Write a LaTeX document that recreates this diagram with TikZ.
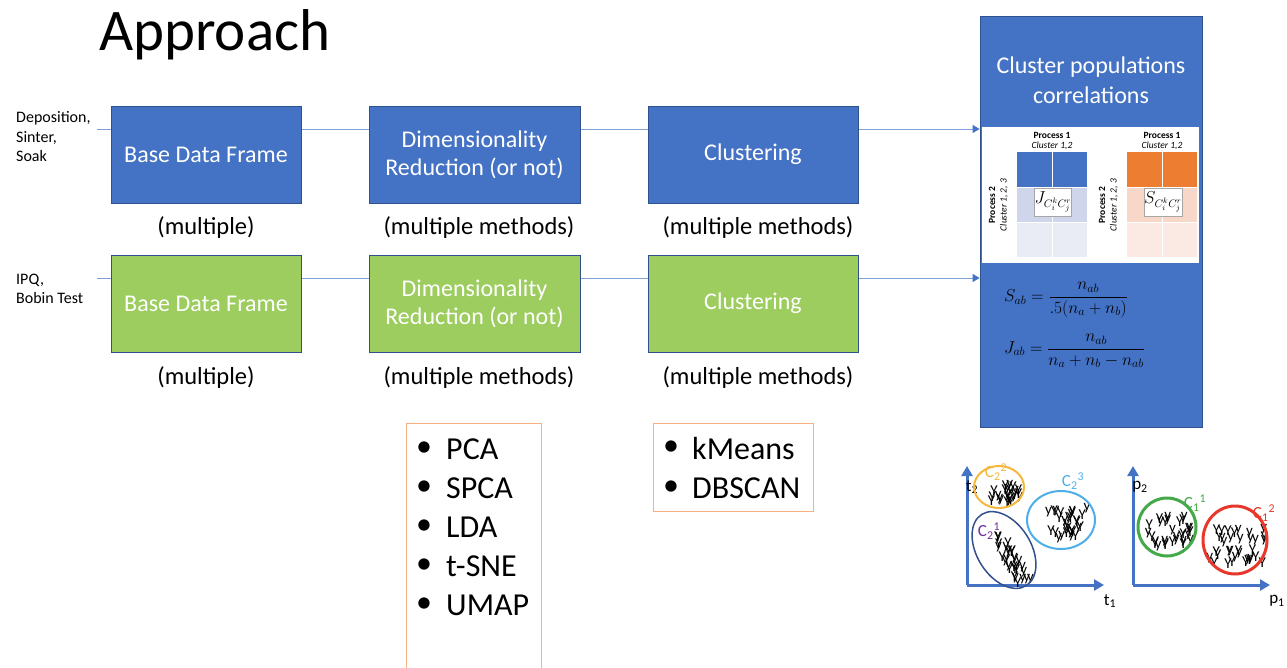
\documentclass[tikz,border=0pt]{standalone}
\usepackage{amsmath}
\usepackage{fontspec}
\setmainfont{Carlito}
\usetikzlibrary{arrows.meta,backgrounds}
\definecolor{bfill}{HTML}{4472C4}
\definecolor{bedge}{HTML}{2F528F}
\definecolor{gfill}{HTML}{9CCD5E}
\definecolor{lline}{HTML}{7F9FD8}
\definecolor{obord}{HTML}{F4B183}
\definecolor{bmid}{HTML}{CFD5EA}
\definecolor{blight}{HTML}{E9EBF5}
\definecolor{ofill}{HTML}{ED7D31}
\definecolor{omid}{HTML}{F7D7C8}
\definecolor{olight}{HTML}{FBEAE3}
\definecolor{cgold}{HTML}{F5B73B}
\definecolor{csky}{HTML}{4FAEE8}
\definecolor{cnavy}{HTML}{33508E}
\definecolor{cpurple}{HTML}{7030A0}
\definecolor{cgreen}{HTML}{45A94A}
\definecolor{cred}{HTML}{E8372B}
\tikzset{
  stagebox/.style={draw=bedge, line width=0.8pt, text=white, minimum width=190pt, minimum height=97pt, align=center, font=\fontsize{24}{28}\selectfont, inner sep=0pt},
  bluebox/.style={stagebox, fill=bfill},
  greenbox/.style={stagebox, fill=gfill},
  undertext/.style={font=\fontsize{24.5}{28}\selectfont, inner sep=0pt},
  flow/.style={draw=lline, line width=1pt, -{Triangle[length=7pt,width=8pt,fill=bfill,color=bfill]}},
  listbox/.style={draw=obord, line width=1pt, fill=white, inner sep=0pt},
  listitem/.style={font=\fontsize{32}{34}\selectfont, anchor=west, inner sep=0pt},
  cellhead/.style={font=\fontsize{9}{10}\selectfont, inner sep=0pt},
  mbox/.style={draw=gray!70, fill=white, line width=0.5pt, minimum width=36pt, minimum height=28pt, inner sep=0pt, font=\fontsize{16}{18}\selectfont},
  axis/.style={draw=bfill, line width=3pt, -{Triangle[length=10pt,width=11pt]}},
  axlabel/.style={font=\fontsize{17}{18}\selectfont, inner sep=0pt},
  ych/.style={font=\fontsize{15}{15}\selectfont, inner sep=0pt},
  clabel/.style={font=\fontsize{17}{18}\selectfont, inner sep=0pt},
}
\begin{document}
\begin{tikzpicture}[x=1pt,y=-1pt]
\useasboundingbox (0,0) rectangle (1287,667);
% title
\node[anchor=west, font=\fontsize{59}{64}\selectfont, inner sep=0pt] (title) at (99,35) {Approach};
% left labels
\node[anchor=west, align=left, font=\fontsize{16}{19.5}\selectfont, inner sep=0pt] (lab1) at (16,137) {Deposition,\\Sinter,\\Soak};
\node[anchor=west, align=left, font=\fontsize{16}{19.5}\selectfont, inner sep=0pt] (lab2) at (16,289) {IPQ,\\Bobin Test};
% boxes row 1
\node[bluebox] (b1) at (206,154.5) {Base Data Frame};
\node[bluebox, minimum width=211pt] (b2) at (474.5,154.5) {Dimensionality\\Reduction (or not)};
\node[bluebox, minimum width=210pt] (b3) at (753,154.5) {Clustering};
% boxes row 2
\node[greenbox] (g1) at (206,303.5) {Base Data Frame};
\node[greenbox, minimum width=211pt] (g2) at (474.5,303.5) {Dimensionality\\Reduction (or not)};
\node[greenbox, minimum width=210pt] (g3) at (753,303.5) {Clustering};
% under labels
\node[undertext] (u1) at (206,228) {(multiple)};
\node[undertext] (u2) at (479,228) {(multiple methods)};
\node[undertext] (u3) at (758,228) {(multiple methods)};
\node[undertext] (u4) at (206,378) {(multiple)};
\node[undertext] (u5) at (479,378) {(multiple methods)};
\node[undertext] (u6) at (758,378) {(multiple methods)};
% right panel
\node[draw=bedge, fill=bfill, line width=0.8pt, minimum width=222pt, minimum height=411pt, inner sep=0pt] (panel) at (1091,221.5) {};
\node[text=white, align=center, font=\fontsize{24}{30}\selectfont, inner sep=0pt] (ptitle) at (1091,80) {Cluster populations\\correlations};
\node[fill=white, minimum width=217pt, minimum height=136pt, inner sep=0pt] (inset) at (1090.5,195) {};
% left table
\fill[bfill] (1017,152) rectangle (1087,187);
\fill[bmid] (1017,187) rectangle (1087,222);
\fill[blight] (1017,222) rectangle (1087,257);
\draw[white, line width=0.8pt] (1052,152) -- (1052,257) (1017,187) -- (1087,187) (1017,222) -- (1087,222);
\node[cellhead, font=\bfseries\fontsize{9.5}{10}\selectfont] (lp1) at (1052,135) {Process 1};
\node[cellhead, font=\itshape\fontsize{9.5}{10}\selectfont] (lc1) at (1052,146) {Cluster 1,2};
\node[cellhead, font=\bfseries\fontsize{9.5}{10}\selectfont, rotate=90] (lp2) at (992,205) {Process 2};
\node[cellhead, font=\itshape\fontsize{9.5}{10}\selectfont, rotate=90] (lc2) at (1004,205) {Cluster 1, 2, 3};
\node[mbox] (jbox) at (1053,202) {$J_{C_i^k C_j^r}$};
% right table
\fill[ofill] (1127,152) rectangle (1197,187);
\fill[omid] (1127,187) rectangle (1197,222);
\fill[olight] (1127,222) rectangle (1197,257);
\draw[white, line width=0.8pt] (1162,152) -- (1162,257) (1127,187) -- (1197,187) (1127,222) -- (1197,222);
\node[cellhead, font=\bfseries\fontsize{9.5}{10}\selectfont] (rp1) at (1162,135) {Process 1};
\node[cellhead, font=\itshape\fontsize{9.5}{10}\selectfont] (rc1) at (1162,146) {Cluster 1,2};
\node[cellhead, font=\bfseries\fontsize{9.5}{10}\selectfont, rotate=90] (rp2) at (1102,205) {Process 2};
\node[cellhead, font=\itshape\fontsize{9.5}{10}\selectfont, rotate=90] (rc2) at (1114,205) {Cluster 1, 2, 3};
\node[mbox] (sbox) at (1163,202) {$S_{C_i^k C_j^r}$};
% formulas
\node[anchor=west, font=\fontsize{18}{20}\selectfont, inner sep=0pt] (fs) at (1004,300) {$S_{ab}=\dfrac{n_{ab}}{.5(n_a+n_b)}$};
\node[anchor=west, font=\fontsize{18}{20}\selectfont, inner sep=0pt] (fj) at (1004,351) {$J_{ab}=\dfrac{n_{ab}}{n_a+n_b-n_{ab}}$};
% flows
\coordinate (s1) at (97,129);
\coordinate (s2) at (97,278);
\begin{scope}[on background layer]
\draw[flow] (s1) -- (s1 -| panel.west);
\draw[flow] (s2) -- (s2 -| panel.west);
\end{scope}
% list boxes
\node[listbox, anchor=north west, minimum width=135pt, minimum height=260pt] (pcabox) at (406,423) {};
\foreach \t [count=\i] in {PCA,SPCA,LDA,t-SNE,UMAP}{
  \node[listitem] (pb\i) at (416,449+39*\i-39) {•};
  \node[listitem] (pt\i) at (446,449+39*\i-39) {\t};
}
\node[listbox, anchor=north west, minimum width=160pt, minimum height=88pt] (kbox) at (653,423) {};
\foreach \t [count=\i] in {kMeans,DBSCAN}{
  \node[listitem] (kb\i) at (663,448+40*\i-40) {•};
  \node[listitem] (kt\i) at (692,448+40*\i-40) {\t};
}
% scatter plot 1
\coordinate (o1) at (967,585);
\draw[axis] (o1) -- (967,466);
\draw[axis] (o1) -- (1104,585);
\node[axlabel] (t2) at (972,487) {t\textsubscript{2}};
\node[axlabel] (t1) at (1110,601) {t\textsubscript{1}};
\pgfmathsetseed{11}
\foreach \i in {1,...,24}{
  \pgfmathsetmacro\dx{rand*16}\pgfmathsetmacro\dy{rand*10}
  \node[ych] (ya\i) at (1004+\dx,494+\dy) {\ifodd\i Y\else y\fi};
}
\foreach \i in {1,...,30}{
  \pgfmathsetmacro\dx{rand*20}\pgfmathsetmacro\dy{rand*17}
  \node[ych] (yb\i) at (1063+\dx-0.4*\dy,524+\dy) {\ifodd\i Y\else y\fi};
}
\foreach \i in {1,...,30}{
  \pgfmathsetmacro\dd{rand*23}\pgfmathsetmacro\dq{rand*8}
  \node[ych] (yc\i) at (1012+0.6*\dd+\dq,560+\dd) {\ifodd\i Y\else y\fi};
}
\draw[cgold, line width=2pt] (999,487) ellipse [x radius=25, y radius=21];
\draw[csky, line width=2pt] (1061,520) ellipse [x radius=34, y radius=29];
\draw[cnavy, line width=1.5pt, rotate around={-58:(1004,550)}] (1004,550) ellipse [x radius=42, y radius=27];
\node[clabel, text=cgold] (l22) at (996,472) {C\textsubscript{2}\textsuperscript{2}};
\node[clabel, text=csky] (l23) at (1073,481) {C\textsubscript{2}\textsuperscript{3}};
\node[clabel, text=cpurple] (l21) at (989,531) {C\textsubscript{2}\textsuperscript{1}};
% scatter plot 2
\coordinate (o2) at (1133,585);
\draw[axis] (o2) -- (1133,466);
\draw[axis] (o2) -- (1270,585);
\node[axlabel] (p2) at (1140,487) {p\textsubscript{2}};
\node[axlabel] (p1) at (1277,601) {p\textsubscript{1}};
\foreach \i in {1,...,30}{
  \pgfmathsetmacro\dx{rand*22}\pgfmathsetmacro\dy{rand*15}
  \node[ych] (yd\i) at (1170+\dx,532+\dy) {\ifodd\i Y\else y\fi};
}
\foreach \i in {1,...,34}{
  \pgfmathsetmacro\dx{rand*28}\pgfmathsetmacro\dy{rand*18}
  \node[ych] (ye\i) at (1237+\dx,546+\dy) {\ifodd\i Y\else y\fi};
}
\draw[cgreen, line width=3pt] (1167,527) circle [radius=29];
\draw[cred, line width=3pt] (1235,540) ellipse [x radius=32, y radius=34];
\node[clabel, text=cgreen] (l11) at (1195,503) {C\textsubscript{1}\textsuperscript{1}};
\node[clabel, text=cred] (l12) at (1264,513) {C\textsubscript{1}\textsuperscript{2}};
\end{tikzpicture}
\end{document}
